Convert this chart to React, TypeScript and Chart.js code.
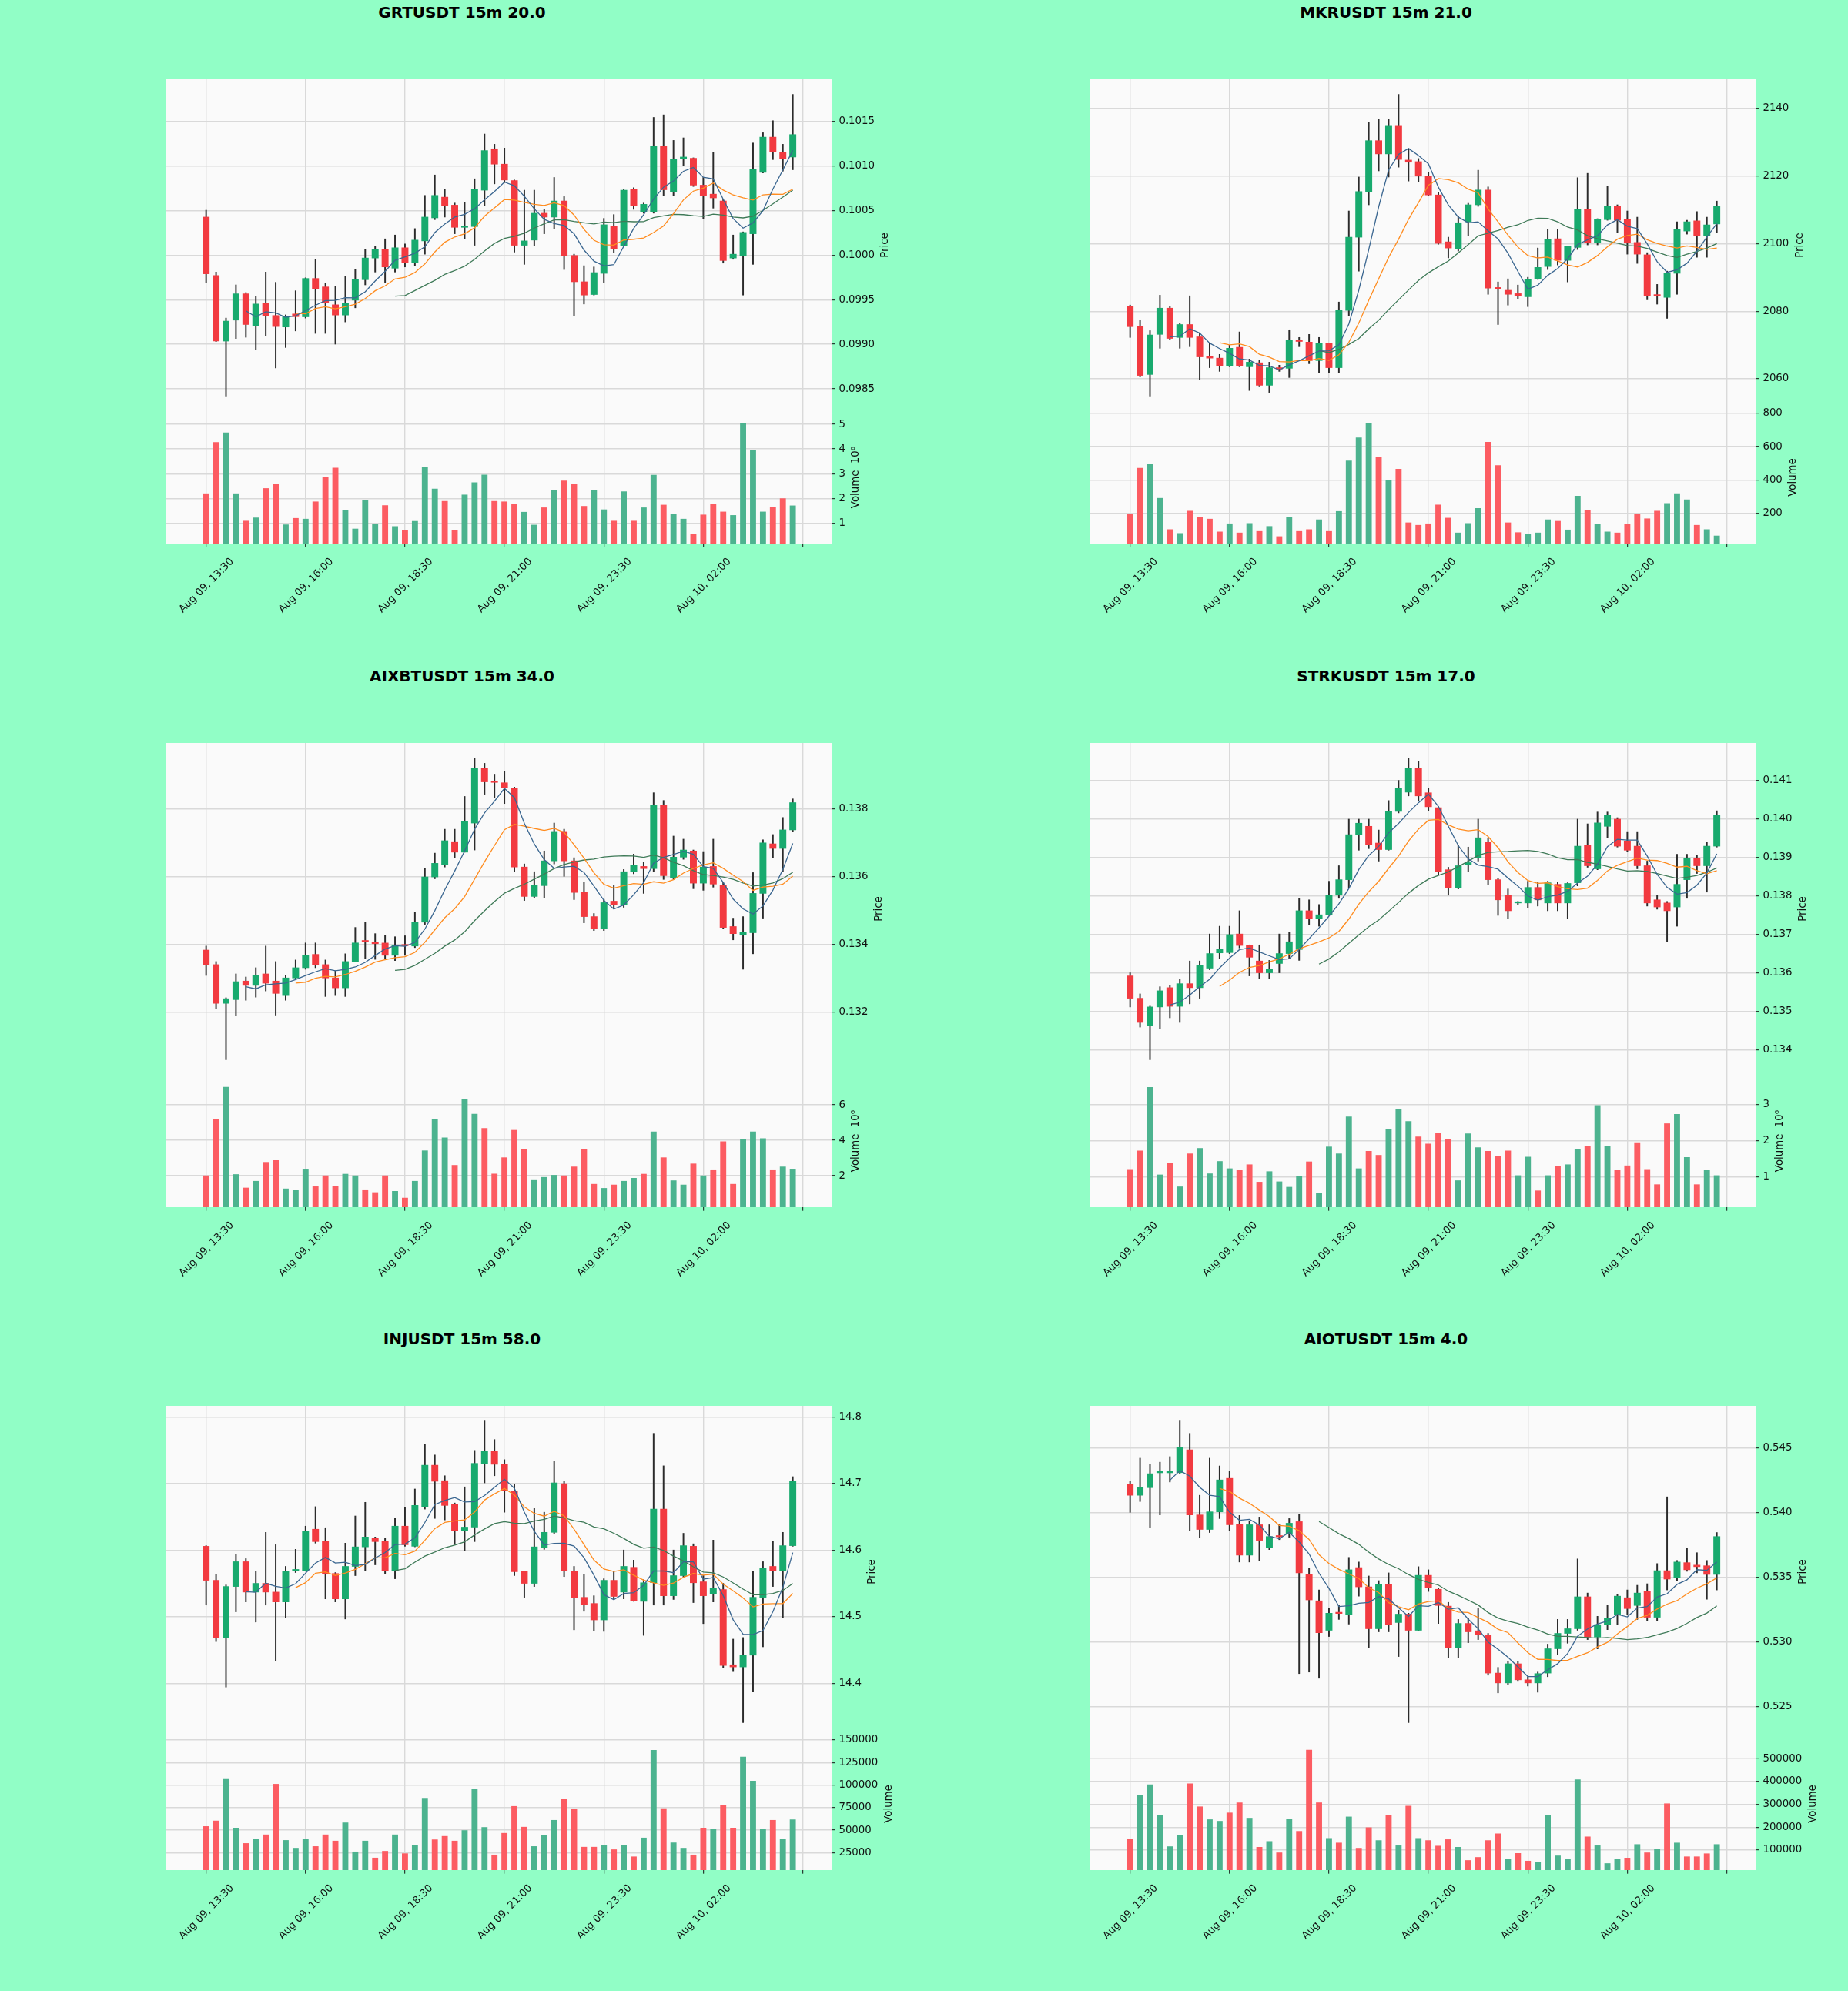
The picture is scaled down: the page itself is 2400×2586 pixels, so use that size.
import { useEffect, useRef } from 'react'
import { Chart } from 'chart.js/auto'

// candles are indexed 0..59 (15 minute bars starting Aug 09 13:30)
const TIME_TICKS = [0, 10, 20, 30, 40, 50, 60]
const TIME_LABELS = ['Aug 09, 13:30', 'Aug 09, 16:00', 'Aug 09, 18:30', 'Aug 09, 21:00', 'Aug 09, 23:30', 'Aug 10, 02:00', '']
const MAV_WINDOWS = [5, 10, 20]

// ---- GRTUSDT ----
const GRT_OPEN = [0.100426, 0.099772, 0.099036, 0.099271, 0.099566, 0.099208, 0.099457, 0.099323, 0.099194, 0.09934, 0.099308, 0.099738, 0.099643, 0.099443, 0.099328, 0.099495, 0.099724, 0.099967, 0.100062, 0.099853, 0.100082, 0.099918, 0.100159, 0.100417, 0.100649, 0.10056, 0.100311, 0.10032, 0.100727, 0.101191, 0.101019, 0.100835, 0.10011, 0.100168, 0.100469, 0.100426, 0.100606, 0.099996, 0.099701, 0.099558, 0.099795, 0.10032, 0.100102, 0.100741, 0.100483, 0.100483, 0.101219, 0.100712, 0.101076, 0.101085, 0.100784, 0.100683, 0.100606, 0.099967, 0.099996, 0.100239, 0.100927, 0.101322, 0.101156, 0.101099]
const GRT_HIGH = [0.100503, 0.09981, 0.099294, 0.099666, 0.09958, 0.099537, 0.09981, 0.099695, 0.09933, 0.0996, 0.099745, 0.099953, 0.099681, 0.099652, 0.099767, 0.099838, 0.100068, 0.100096, 0.100182, 0.100225, 0.100125, 0.100297, 0.100669, 0.100898, 0.100741, 0.100583, 0.100589, 0.100855, 0.101357, 0.101242, 0.101199, 0.100841, 0.100727, 0.100727, 0.100512, 0.10087, 0.100655, 0.10001, 0.099881, 0.099867, 0.100411, 0.100454, 0.100741, 0.100755, 0.100583, 0.101543, 0.101572, 0.101285, 0.101314, 0.10109, 0.10087, 0.101156, 0.100626, 0.100225, 0.10026, 0.101256, 0.101371, 0.101506, 0.101242, 0.101801]
const GRT_LOW = [0.099695, 0.09903, 0.09842, 0.099065, 0.099079, 0.098936, 0.099093, 0.098735, 0.098964, 0.09915, 0.099294, 0.099122, 0.099122, 0.099002, 0.099251, 0.099409, 0.099666, 0.09981, 0.099695, 0.09981, 0.099867, 0.099881, 0.10001, 0.100397, 0.100426, 0.100239, 0.100182, 0.10011, 0.100555, 0.100798, 0.100812, 0.100033, 0.099896, 0.100102, 0.100239, 0.100297, 0.099838, 0.099323, 0.099452, 0.099552, 0.099695, 0.100025, 0.100096, 0.100512, 0.100469, 0.10047, 0.100669, 0.100669, 0.100999, 0.100769, 0.100411, 0.100526, 0.09991, 0.099953, 0.099552, 0.099896, 0.10092, 0.10107, 0.100941, 0.100956]
const GRT_CLOSE = [0.09979, 0.099036, 0.09926, 0.099566, 0.099222, 0.099452, 0.099323, 0.099199, 0.099317, 0.09931, 0.099738, 0.099623, 0.099466, 0.099328, 0.09946, 0.099724, 0.099967, 0.100068, 0.099867, 0.100082, 0.099918, 0.100168, 0.100426, 0.100669, 0.100555, 0.100311, 0.10032, 0.100741, 0.101171, 0.101019, 0.100841, 0.10011, 0.100159, 0.100469, 0.100426, 0.100606, 0.099996, 0.099701, 0.099552, 0.099804, 0.10034, 0.100068, 0.100727, 0.100555, 0.100569, 0.101219, 0.100732, 0.101076, 0.101099, 0.100784, 0.100669, 0.100641, 0.099939, 0.10001, 0.100254, 0.100961, 0.101322, 0.101156, 0.101076, 0.101351]
const GRT_VOLUME = [2.19e6, 4.27e6, 4.66e6, 2.19e6, 1.08e6, 1.21e6, 2.4e6, 2.58e6, 0.93e6, 1.19e6, 1.16e6, 1.86e6, 2.85e6, 3.23e6, 1.5e6, 0.76e6, 1.91e6, 0.95e6, 1.71e6, 0.86e6, 0.72e6, 1.07e6, 3.26e6, 2.38e6, 1.88e6, 0.69e6, 2.14e6, 2.64e6, 2.95e6, 1.88e6, 1.86e6, 1.75e6, 1.44e6, 0.92e6, 1.62e6, 2.33e6, 2.71e6, 2.58e6, 1.68e6, 2.33e6, 1.54e6, 1.08e6, 2.27e6, 1.08e6, 1.62e6, 2.94e6, 1.73e6, 1.36e6, 1.16e6, 0.56e6, 1.33e6, 1.75e6, 1.45e6, 1.31e6, 5.03e6, 3.94e6, 1.45e6, 1.65e6, 1.99e6, 1.7e6]
const GRT_PRICE_TICKS = [0.0985, 0.099, 0.0995, 0.1, 0.1005, 0.101, 0.1015]
const GRT_VOLUME_TICKS = [1e6, 2e6, 3e6, 4e6, 5e6]

// ---- MKRUSDT ----
const MKR_OPEN = [2081.37, 2075.43, 2061.28, 2073.15, 2080.91, 2072.24, 2076.07, 2072.42, 2066.58, 2066.12, 2063.84, 2069.32, 2063.56, 2064.75, 2058.08, 2063.29, 2063.11, 2071.33, 2070.87, 2065.39, 2070.41, 2063.29, 2080.27, 2101.92, 2115.43, 2130.5, 2126.58, 2134.79, 2124.75, 2124.29, 2120.0, 2114.43, 2100.55, 2098.54, 2106.48, 2111.51, 2115.89, 2087.03, 2086.21, 2085.21, 2084.29, 2089.59, 2093.24, 2101.46, 2095.07, 2098.9, 2110.14, 2100.27, 2107.12, 2111.05, 2107.12, 2100.37, 2096.71, 2084.84, 2084.11, 2091.23, 2103.74, 2106.76, 2102.37, 2105.84]
const MKR_HIGH = [2081.83, 2077.26, 2074.25, 2084.75, 2081.37, 2076.35, 2084.57, 2073.61, 2070.41, 2067.22, 2069.95, 2073.88, 2065.84, 2065.39, 2064.93, 2064.02, 2074.52, 2072.24, 2073.15, 2072.24, 2070.59, 2082.74, 2109.68, 2119.73, 2135.89, 2136.8, 2136.8, 2144.2, 2128.13, 2125.21, 2121.1, 2115.16, 2101.92, 2108.04, 2111.96, 2121.74, 2116.8, 2088.68, 2089.59, 2087.76, 2090.05, 2098.72, 2104.2, 2104.38, 2099.36, 2119.54, 2120.82, 2107.4, 2116.99, 2111.51, 2109.68, 2107.85, 2097.35, 2087.95, 2091.87, 2106.48, 2106.94, 2109.5, 2107.85, 2112.6]
const MKR_LOW = [2072.24, 2060.55, 2054.89, 2069.04, 2071.51, 2069.04, 2069.5, 2059.63, 2063.29, 2062.19, 2063.56, 2063.56, 2056.53, 2057.63, 2055.98, 2062.19, 2060.37, 2069.5, 2064.47, 2061.74, 2061.74, 2061.74, 2078.63, 2091.87, 2111.51, 2121.55, 2119.73, 2122.65, 2118.54, 2118.36, 2114.25, 2099.82, 2095.8, 2097.81, 2102.37, 2111.05, 2085.02, 2076.07, 2081.83, 2083.65, 2081.37, 2089.41, 2092.33, 2093.7, 2088.68, 2098.26, 2099.64, 2099.64, 2106.94, 2103.29, 2096.9, 2094.16, 2083.38, 2082.1, 2077.9, 2085.02, 2102.83, 2095.98, 2095.98, 2103.29]
const MKR_CLOSE = [2075.43, 2061.0, 2072.97, 2080.91, 2071.96, 2076.07, 2072.24, 2066.48, 2066.12, 2063.84, 2069.04, 2063.84, 2064.93, 2058.08, 2063.29, 2062.92, 2071.33, 2071.05, 2065.39, 2070.41, 2063.29, 2080.27, 2101.92, 2115.43, 2130.5, 2126.58, 2134.79, 2124.93, 2124.11, 2120.0, 2114.43, 2100.09, 2098.72, 2106.21, 2111.51, 2115.89, 2086.85, 2086.67, 2085.02, 2084.57, 2089.41, 2092.97, 2101.19, 2095.07, 2099.18, 2110.14, 2100.27, 2107.12, 2111.05, 2106.94, 2100.37, 2096.9, 2084.57, 2084.57, 2091.23, 2104.2, 2106.48, 2102.37, 2105.57, 2111.05]
const MKR_VOLUME = [193, 470, 493, 290, 102, 79, 213, 176, 165, 88, 137, 82, 139, 91, 121, 60, 176, 91, 102, 161, 91, 211, 515, 653, 739, 537, 400, 465, 143, 128, 137, 250, 171, 82, 139, 229, 627, 487, 143, 84, 73, 82, 161, 152, 100, 303, 217, 134, 88, 82, 134, 194, 167, 213, 259, 318, 281, 128, 102, 64]
const MKR_PRICE_TICKS = [2060, 2080, 2100, 2120, 2140]
const MKR_VOLUME_TICKS = [200, 400, 600, 800]

// ---- AIXBTUSDT ----
const AIXBT_OPEN = [0.133832, 0.133402, 0.132257, 0.132367, 0.132916, 0.132788, 0.133127, 0.132916, 0.132486, 0.133008, 0.13331, 0.133704, 0.133402, 0.133008, 0.132715, 0.133493, 0.1341, 0.13404, 0.13404, 0.133677, 0.13398, 0.133951, 0.134657, 0.135994, 0.13636, 0.137038, 0.136727, 0.137588, 0.1392, 0.13882, 0.138779, 0.138623, 0.136287, 0.135417, 0.135737, 0.13647, 0.13734, 0.13647, 0.135536, 0.134821, 0.134455, 0.135279, 0.13517, 0.13615, 0.136305, 0.136241, 0.138119, 0.135966, 0.13658, 0.136763, 0.135811, 0.136305, 0.135756, 0.134528, 0.13429, 0.134345, 0.135508, 0.136974, 0.136837, 0.137386]
const AIXBT_HIGH = [0.133951, 0.133493, 0.132422, 0.133127, 0.133035, 0.13331, 0.133951, 0.133493, 0.133081, 0.133539, 0.134043, 0.134043, 0.133539, 0.133218, 0.133722, 0.134501, 0.134657, 0.134318, 0.134272, 0.134226, 0.134254, 0.134959, 0.136241, 0.136699, 0.137405, 0.137405, 0.138376, 0.139511, 0.139356, 0.139035, 0.139127, 0.13865, 0.136379, 0.13615, 0.136763, 0.137588, 0.137405, 0.136562, 0.135829, 0.134913, 0.135325, 0.135737, 0.136214, 0.136672, 0.136424, 0.138485, 0.138256, 0.137203, 0.137112, 0.136791, 0.136745, 0.137112, 0.135847, 0.134776, 0.134821, 0.136122, 0.137093, 0.137249, 0.137753, 0.138302]
const AIXBT_LOW = [0.133081, 0.132092, 0.13059, 0.13189, 0.132348, 0.13244, 0.132623, 0.131909, 0.132348, 0.132989, 0.133264, 0.13331, 0.132458, 0.132486, 0.132458, 0.133493, 0.133585, 0.133557, 0.133585, 0.133521, 0.133677, 0.133905, 0.134592, 0.135939, 0.136287, 0.136562, 0.136727, 0.136791, 0.13844, 0.138348, 0.138165, 0.13615, 0.135298, 0.135371, 0.135371, 0.136379, 0.136012, 0.135325, 0.134638, 0.134409, 0.134409, 0.13505, 0.135096, 0.136086, 0.135508, 0.13615, 0.135921, 0.135921, 0.136516, 0.135646, 0.1356, 0.135692, 0.134455, 0.134134, 0.133264, 0.133722, 0.134776, 0.136562, 0.13615, 0.13734]
const AIXBT_CLOSE = [0.133402, 0.132257, 0.132394, 0.132898, 0.132788, 0.133081, 0.132852, 0.13255, 0.133008, 0.13331, 0.133677, 0.133402, 0.133008, 0.132715, 0.133493, 0.134043, 0.13408, 0.13402, 0.133677, 0.133979, 0.13396, 0.134657, 0.135994, 0.136397, 0.137066, 0.136727, 0.137643, 0.1392, 0.138806, 0.13879, 0.138623, 0.136287, 0.135417, 0.135737, 0.13647, 0.13734, 0.13647, 0.135536, 0.134821, 0.134455, 0.135234, 0.13517, 0.13615, 0.136333, 0.136241, 0.138119, 0.136031, 0.13658, 0.136791, 0.135811, 0.136287, 0.135783, 0.134501, 0.134318, 0.134364, 0.135508, 0.137002, 0.136837, 0.137386, 0.138192]
const AIXBT_VOLUME = [2.0e6, 5.19e6, 7.0e6, 2.07e6, 1.31e6, 1.69e6, 2.76e6, 2.86e6, 1.26e6, 1.17e6, 2.38e6, 1.38e6, 2.0e6, 1.41e6, 2.09e6, 2.0e6, 1.21e6, 1.05e6, 2.0e6, 1.12e6, 0.74e6, 1.69e6, 3.41e6, 5.19e6, 4.14e6, 2.59e6, 6.29e6, 5.48e6, 4.67e6, 2.1e6, 3.02e6, 4.57e6, 3.5e6, 1.78e6, 1.91e6, 2.03e6, 2.0e6, 2.5e6, 3.5e6, 1.52e6, 1.29e6, 1.48e6, 1.69e6, 1.86e6, 2.09e6, 4.48e6, 3.02e6, 1.72e6, 1.48e6, 2.67e6, 2.0e6, 2.34e6, 3.93e6, 1.52e6, 4.05e6, 4.48e6, 4.1e6, 2.34e6, 2.5e6, 2.38e6]
const AIXBT_PRICE_TICKS = [0.132, 0.134, 0.136, 0.138]
const AIXBT_VOLUME_TICKS = [2e6, 4e6, 6e6]

// ---- STRKUSDT ----
const STRK_OPEN = [0.135915, 0.135334, 0.134624, 0.135108, 0.135609, 0.135124, 0.135713, 0.135609, 0.136117, 0.136513, 0.136521, 0.137005, 0.136706, 0.136303, 0.135996, 0.136238, 0.136496, 0.136601, 0.13761, 0.137408, 0.137505, 0.138014, 0.138417, 0.139588, 0.139805, 0.13937, 0.1392, 0.140193, 0.140693, 0.141307, 0.140677, 0.14029, 0.138676, 0.138216, 0.138805, 0.138982, 0.139402, 0.138417, 0.138014, 0.137812, 0.137812, 0.138216, 0.137812, 0.138296, 0.137812, 0.138337, 0.139305, 0.1387, 0.139805, 0.139991, 0.139426, 0.139289, 0.13878, 0.137893, 0.137812, 0.137707, 0.138417, 0.138982, 0.13878, 0.139289]
const STRK_HIGH = [0.135996, 0.135447, 0.135149, 0.135633, 0.135673, 0.135835, 0.136303, 0.136303, 0.137005, 0.137207, 0.137207, 0.13761, 0.136722, 0.136722, 0.136319, 0.137005, 0.137045, 0.137933, 0.137893, 0.137772, 0.138377, 0.13878, 0.139991, 0.139991, 0.139991, 0.139709, 0.140475, 0.141, 0.141581, 0.1415, 0.140798, 0.140314, 0.13874, 0.139305, 0.139265, 0.139991, 0.139507, 0.138458, 0.138175, 0.137852, 0.138377, 0.138353, 0.138377, 0.138353, 0.138337, 0.139991, 0.13987, 0.140177, 0.140177, 0.14003, 0.139668, 0.139668, 0.138901, 0.138014, 0.137852, 0.139079, 0.139079, 0.139063, 0.139402, 0.140209]
const STRK_LOW = [0.135108, 0.134584, 0.133736, 0.134543, 0.134826, 0.134705, 0.135189, 0.135334, 0.136077, 0.136359, 0.136496, 0.136642, 0.135915, 0.135835, 0.135835, 0.135996, 0.136359, 0.136319, 0.137247, 0.137207, 0.137489, 0.137933, 0.138216, 0.139184, 0.139224, 0.138901, 0.139184, 0.140153, 0.140596, 0.140475, 0.140209, 0.138538, 0.138014, 0.138175, 0.138619, 0.138901, 0.138296, 0.137489, 0.137408, 0.137755, 0.137691, 0.137731, 0.13761, 0.13761, 0.137408, 0.138256, 0.13874, 0.138676, 0.139507, 0.139265, 0.139144, 0.1387, 0.137731, 0.13765, 0.136803, 0.137207, 0.137933, 0.138579, 0.138094, 0.139265]
const STRK_CLOSE = [0.135334, 0.134705, 0.135108, 0.135528, 0.135124, 0.135713, 0.135609, 0.136198, 0.136496, 0.136601, 0.136989, 0.136706, 0.1364, 0.135996, 0.136093, 0.136496, 0.136803, 0.13761, 0.137408, 0.137505, 0.138014, 0.138417, 0.139588, 0.139886, 0.139321, 0.1392, 0.140193, 0.140798, 0.141307, 0.140596, 0.140314, 0.138619, 0.138216, 0.13878, 0.138861, 0.139507, 0.138417, 0.137893, 0.13761, 0.137828, 0.138216, 0.137893, 0.138337, 0.137812, 0.13832, 0.139289, 0.13878, 0.139894, 0.140096, 0.139289, 0.139184, 0.13878, 0.137812, 0.137707, 0.13761, 0.138296, 0.138982, 0.13878, 0.139289, 0.140096]
const STRK_VOLUME = [1.21e6, 1.72e6, 3.47e6, 1.06e6, 1.38e6, 0.73e6, 1.64e6, 1.79e6, 1.09e6, 1.43e6, 1.23e6, 1.2e6, 1.34e6, 0.86e6, 1.15e6, 0.87e6, 0.72e6, 1.02e6, 1.42e6, 0.56e6, 1.83e6, 1.64e6, 2.66e6, 1.23e6, 1.71e6, 1.6e6, 2.32e6, 2.87e6, 2.53e6, 2.11e6, 1.91e6, 2.21e6, 2.04e6, 0.9e6, 2.19e6, 1.81e6, 1.71e6, 1.57e6, 1.72e6, 1.04e6, 1.55e6, 0.62e6, 1.04e6, 1.3e6, 1.34e6, 1.77e6, 1.85e6, 2.97e6, 1.85e6, 1.19e6, 1.31e6, 1.95e6, 1.21e6, 0.79e6, 2.47e6, 2.73e6, 1.54e6, 0.79e6, 1.2e6, 1.04e6]
const STRK_PRICE_TICKS = [0.134, 0.135, 0.136, 0.137, 0.138, 0.139, 0.14, 0.141]
const STRK_VOLUME_TICKS = [1e6, 2e6, 3e6]

// ---- INJUSDT ----
const INJ_OPEN = [14.6058, 14.5547, 14.4688, 14.5454, 14.5826, 14.537, 14.5501, 14.537, 14.5222, 14.5692, 14.5696, 14.6314, 14.6128, 14.5649, 14.5268, 14.5756, 14.6049, 14.6174, 14.6128, 14.5686, 14.636, 14.6058, 14.6653, 14.7275, 14.7043, 14.6685, 14.629, 14.6346, 14.7303, 14.7489, 14.7289, 14.6885, 14.5677, 14.5501, 14.6035, 14.6267, 14.6997, 14.5686, 14.5291, 14.5199, 14.4952, 14.5547, 14.537, 14.5742, 14.5231, 14.551, 14.6616, 14.5315, 14.5617, 14.6058, 14.5524, 14.5338, 14.5408, 14.4279, 14.4246, 14.4423, 14.5292, 14.5756, 14.5686, 14.6067]
const INJ_HIGH = [14.6067, 14.564, 14.5477, 14.5942, 14.5872, 14.5686, 14.6267, 14.6081, 14.5756, 14.6012, 14.636, 14.6653, 14.6337, 14.5663, 14.6105, 14.6513, 14.6718, 14.6197, 14.6174, 14.6476, 14.6639, 14.6918, 14.7591, 14.7429, 14.7117, 14.6708, 14.695, 14.7498, 14.794, 14.7661, 14.7359, 14.6987, 14.5686, 14.6625, 14.6569, 14.7336, 14.7034, 14.5756, 14.564, 14.5315, 14.557, 14.5686, 14.6002, 14.5849, 14.5556, 14.7754, 14.7266, 14.6002, 14.6253, 14.6095, 14.5617, 14.6151, 14.5501, 14.4664, 14.4688, 14.5686, 14.5826, 14.6128, 14.6267, 14.7103]
const INJ_LOW = [14.5175, 14.4627, 14.3944, 14.5073, 14.5222, 14.492, 14.5175, 14.4339, 14.499, 14.5663, 14.5686, 14.6105, 14.5268, 14.5222, 14.4966, 14.5617, 14.5686, 14.5779, 14.564, 14.557, 14.6058, 14.605, 14.6616, 14.6476, 14.6453, 14.6081, 14.5988, 14.6128, 14.701, 14.7117, 14.6569, 14.5617, 14.5292, 14.5454, 14.6012, 14.6244, 14.5603, 14.4804, 14.5082, 14.4794, 14.478, 14.5268, 14.5268, 14.5231, 14.472, 14.5175, 14.5175, 14.5259, 14.5594, 14.5212, 14.4897, 14.5222, 14.4237, 14.4176, 14.341, 14.3874, 14.4548, 14.5454, 14.499, 14.6058]
const INJ_CLOSE = [14.5547, 14.4688, 14.5454, 14.5826, 14.537, 14.5501, 14.537, 14.5222, 14.5687, 14.57, 14.629, 14.6128, 14.5649, 14.5268, 14.5756, 14.6049, 14.6197, 14.6128, 14.5686, 14.636, 14.6081, 14.6671, 14.7275, 14.7034, 14.6671, 14.629, 14.6346, 14.7303, 14.7489, 14.7289, 14.6894, 14.5677, 14.5501, 14.6049, 14.6267, 14.701, 14.5686, 14.5291, 14.5185, 14.4952, 14.5547, 14.5305, 14.5756, 14.5245, 14.551, 14.6616, 14.5315, 14.5617, 14.6067, 14.551, 14.5315, 14.5431, 14.4269, 14.4246, 14.4423, 14.5292, 14.5733, 14.5686, 14.6067, 14.7034]
const INJ_VOLUME = [54100, 60300, 107200, 52400, 35300, 39700, 44900, 101000, 38700, 30100, 39700, 31900, 44900, 38000, 58200, 26000, 38000, 19200, 26700, 44900, 24000, 32900, 85600, 39400, 43200, 38000, 49700, 95200, 53100, 22600, 46600, 76400, 53400, 31900, 44500, 61000, 83900, 73000, 31200, 31200, 33600, 28400, 32900, 20500, 41400, 138700, 74000, 36000, 30100, 22600, 52400, 50700, 78100, 52400, 131200, 104500, 50700, 61000, 39700, 61600]
const INJ_PRICE_TICKS = [14.4, 14.5, 14.6, 14.7, 14.8]
const INJ_VOLUME_TICKS = [25000, 50000, 75000, 100000, 125000, 150000]

// ---- AIOTUSDT ----
const AIOT_OPEN = [0.54224, 0.54136, 0.54195, 0.5431, 0.5431, 0.54311, 0.54488, 0.53984, 0.53872, 0.54008, 0.54267, 0.53912, 0.53673, 0.53908, 0.53728, 0.5382, 0.53836, 0.53932, 0.53524, 0.5332, 0.53092, 0.53226, 0.53212, 0.53577, 0.53428, 0.53104, 0.53447, 0.53152, 0.53217, 0.53092, 0.53517, 0.53409, 0.53279, 0.5296, 0.53145, 0.53088, 0.53056, 0.52761, 0.52685, 0.52833, 0.52709, 0.52685, 0.52761, 0.52949, 0.53068, 0.53104, 0.53351, 0.5304, 0.53136, 0.53212, 0.53344, 0.53284, 0.53392, 0.53193, 0.53553, 0.535, 0.53615, 0.53596, 0.53591, 0.53524]
const AIOT_HIGH = [0.54243, 0.54423, 0.54375, 0.54392, 0.54435, 0.54711, 0.54615, 0.54136, 0.54423, 0.54363, 0.5432, 0.5398, 0.53936, 0.53968, 0.53908, 0.53908, 0.53956, 0.53992, 0.53572, 0.53404, 0.5326, 0.53284, 0.53656, 0.5362, 0.53512, 0.53476, 0.53536, 0.53248, 0.53224, 0.53584, 0.5356, 0.53416, 0.53308, 0.53176, 0.53188, 0.5326, 0.53068, 0.52805, 0.52853, 0.52853, 0.52733, 0.52769, 0.52985, 0.53176, 0.53176, 0.53644, 0.5338, 0.532, 0.53284, 0.53368, 0.53404, 0.5344, 0.53452, 0.53608, 0.54124, 0.53632, 0.53728, 0.53692, 0.53632, 0.53848]
const AIOT_LOW = [0.54004, 0.54088, 0.53889, 0.53984, 0.54239, 0.54305, 0.5386, 0.53807, 0.53848, 0.53956, 0.5386, 0.5362, 0.5362, 0.53632, 0.53716, 0.53793, 0.53812, 0.52757, 0.52769, 0.52721, 0.53044, 0.53176, 0.5314, 0.53356, 0.5296, 0.5308, 0.5308, 0.52889, 0.52378, 0.53085, 0.53392, 0.53145, 0.52877, 0.52877, 0.52996, 0.5302, 0.52745, 0.52608, 0.52673, 0.52697, 0.52661, 0.52613, 0.52733, 0.52901, 0.52992, 0.53092, 0.5302, 0.52948, 0.53097, 0.53136, 0.53212, 0.53176, 0.53164, 0.53164, 0.53404, 0.53476, 0.53548, 0.53536, 0.53332, 0.53404]
const AIOT_CLOSE = [0.54136, 0.54195, 0.54303, 0.54315, 0.54313, 0.54507, 0.53984, 0.53872, 0.54008, 0.54255, 0.53908, 0.53673, 0.53908, 0.53788, 0.53817, 0.53815, 0.5392, 0.53536, 0.53327, 0.53073, 0.53224, 0.53222, 0.5356, 0.53428, 0.53104, 0.53447, 0.53136, 0.53217, 0.53092, 0.53517, 0.53423, 0.53284, 0.5296, 0.53145, 0.5308, 0.53056, 0.52761, 0.52685, 0.52833, 0.52709, 0.52685, 0.52757, 0.52949, 0.53068, 0.53104, 0.53351, 0.5304, 0.53136, 0.53188, 0.53356, 0.5326, 0.5338, 0.53193, 0.53553, 0.53488, 0.5362, 0.5356, 0.53584, 0.53524, 0.53817]
const AIOT_VOLUME = [148300, 338900, 385800, 253000, 114800, 165800, 389900, 289200, 232900, 226100, 262400, 306700, 239600, 112100, 137600, 87900, 235500, 181900, 537500, 306700, 151000, 130900, 244900, 108100, 198000, 141600, 251600, 118800, 291900, 151000, 141600, 117400, 145600, 112100, 54400, 67800, 141600, 171100, 61100, 85200, 51700, 47700, 251600, 74500, 61100, 407300, 157700, 118800, 41000, 58400, 65100, 124200, 87900, 105400, 302600, 130900, 70500, 70500, 83900, 124200]
const AIOT_PRICE_TICKS = [0.525, 0.53, 0.535, 0.54, 0.545]
const AIOT_VOLUME_TICKS = [100000, 200000, 300000, 400000, 500000]

const FONT = 'DejaVu Sans'
const PAGE_BG = '#91fec6'
const PLOT_BG = '#fafafa'
const GRID = '#d9d9d9'
const TEXT = '#111111'
const UP = '#18aa6e'
const DOWN = '#f23a40'
const VOL_UP = '#4cb38f'
const VOL_DOWN = '#fc5c62'
const WICK = '#2b2b2b'
const MAV_COLORS = ['#3a6690', '#ff8c1f', '#3f7a58']

const COL_X = [216, 1416]
const COL_CENTER = [600, 1800]
const ROW_Y = [103, 965, 1826]
const PLOT_W = 864
const PRICE_H = 431
const VOL_H = 172
const AXIS_W = 130
const XLABEL_H = 150
const EXT = 20 // room above each plot so the top tick label is not cut
const TICK_LEN = 4.7
const TICK_PAD = 4.7

type PanelDef = {
  title: string
  col: number
  row: number
  open: number[]
  high: number[]
  low: number[]
  close: number[]
  volume: number[]
  priceTicks: number[]
  priceFmt: (v: number) => string
  volumeTicks: number[]
  volumeFmt: (v: number) => string
  volumeLabel: string
}

const fixed = (d: number) => (v: number) => v.toFixed(d)
const millions = (v: number) => String(Math.round(v / 1e6))
const plain = (v: number) => String(Math.round(v))

const PANELS: PanelDef[] = [
  { title: 'GRTUSDT 15m 20.0', col: 0, row: 0, open: GRT_OPEN, high: GRT_HIGH, low: GRT_LOW, close: GRT_CLOSE, volume: GRT_VOLUME, priceTicks: GRT_PRICE_TICKS, priceFmt: fixed(4), volumeTicks: GRT_VOLUME_TICKS, volumeFmt: millions, volumeLabel: 'Volume  10\u2076' },
  { title: 'MKRUSDT 15m 21.0', col: 1, row: 0, open: MKR_OPEN, high: MKR_HIGH, low: MKR_LOW, close: MKR_CLOSE, volume: MKR_VOLUME, priceTicks: MKR_PRICE_TICKS, priceFmt: plain, volumeTicks: MKR_VOLUME_TICKS, volumeFmt: plain, volumeLabel: 'Volume' },
  { title: 'AIXBTUSDT 15m 34.0', col: 0, row: 1, open: AIXBT_OPEN, high: AIXBT_HIGH, low: AIXBT_LOW, close: AIXBT_CLOSE, volume: AIXBT_VOLUME, priceTicks: AIXBT_PRICE_TICKS, priceFmt: fixed(3), volumeTicks: AIXBT_VOLUME_TICKS, volumeFmt: millions, volumeLabel: 'Volume  10\u2076' },
  { title: 'STRKUSDT 15m 17.0', col: 1, row: 1, open: STRK_OPEN, high: STRK_HIGH, low: STRK_LOW, close: STRK_CLOSE, volume: STRK_VOLUME, priceTicks: STRK_PRICE_TICKS, priceFmt: fixed(3), volumeTicks: STRK_VOLUME_TICKS, volumeFmt: millions, volumeLabel: 'Volume  10\u2076' },
  { title: 'INJUSDT 15m 58.0', col: 0, row: 2, open: INJ_OPEN, high: INJ_HIGH, low: INJ_LOW, close: INJ_CLOSE, volume: INJ_VOLUME, priceTicks: INJ_PRICE_TICKS, priceFmt: fixed(1), volumeTicks: INJ_VOLUME_TICKS, volumeFmt: plain, volumeLabel: 'Volume' },
  { title: 'AIOTUSDT 15m 4.0', col: 1, row: 2, open: AIOT_OPEN, high: AIOT_HIGH, low: AIOT_LOW, close: AIOT_CLOSE, volume: AIOT_VOLUME, priceTicks: AIOT_PRICE_TICKS, priceFmt: fixed(3), volumeTicks: AIOT_VOLUME_TICKS, volumeFmt: plain, volumeLabel: 'Volume' },
]

function movingAverage(values: number[], win: number) {
  const out: { x: number; y: number }[] = []
  for (let i = win - 1; i < values.length; i++) {
    let s = 0
    for (let k = i - win + 1; k <= i; k++) s += values[k]
    out.push({ x: i, y: s / win })
  }
  return out
}

const plotBg = {
  id: 'plotBg',
  beforeDraw(chart: any) {
    const { ctx, chartArea: a } = chart
    ctx.save()
    ctx.fillStyle = PLOT_BG
    ctx.fillRect(a.left, a.top, a.right - a.left, a.bottom - a.top)
    ctx.restore()
  },
}

// matplotlib-style y label on the right, reading bottom to top
function yLabel(text: string, tickTexts: string[]) {
  return {
    id: 'yLabel',
    afterDraw(chart: any) {
      const { ctx, chartArea: a } = chart
      ctx.save()
      ctx.font = `13.33px "${FONT}"`
      const w = Math.max(...tickTexts.map((t) => ctx.measureText(t).width))
      const x = a.right + TICK_LEN + TICK_PAD + w + 5.3 + 8.5
      ctx.translate(x, (a.top + a.bottom) / 2)
      ctx.rotate(-Math.PI / 2)
      ctx.textAlign = 'center'
      ctx.textBaseline = 'middle'
      ctx.fillStyle = TEXT
      ctx.fillText(text, 0, 0)
      ctx.restore()
    },
  }
}

function xScale(withLabels: boolean) {
  return {
    type: 'linear' as const,
    min: -4,
    max: 62.9,
    offset: false,
    afterBuildTicks: (s: any) => {
      s.ticks = TIME_TICKS.map((v) => ({ value: v }))
    },
    afterFit: (s: any) => {
      s.height = withLabels ? XLABEL_H : 0
      s.paddingLeft = 0
      s.paddingRight = 0
    },
    ticks: {
      display: withLabels,
      autoSkip: false,
      maxRotation: 45,
      minRotation: 45,
      labelOffset: 34,
      padding: 11,
      color: TEXT,
      font: { family: FONT, size: 13.33 },
      callback: (v: any) => TIME_LABELS[TIME_TICKS.indexOf(Number(v))] ?? '',
    },
    grid: { offset: false, color: GRID, lineWidth: 1.4, drawTicks: withLabels, tickLength: TICK_LEN, tickColor: TEXT, tickWidth: 1 },
    border: { display: false },
  }
}

function yScale(min: number, max: number, ticks: number[], fmt: (v: number) => string) {
  return {
    type: 'linear' as const,
    position: 'right' as const,
    min,
    max,
    afterBuildTicks: (s: any) => {
      s.ticks = ticks.map((v) => ({ value: v }))
    },
    afterFit: (s: any) => {
      s.width = AXIS_W
      s.paddingTop = 0
      s.paddingBottom = 0
    },
    ticks: {
      autoSkip: false,
      padding: TICK_PAD,
      color: TEXT,
      font: { family: FONT, size: 13.33 },
      callback: (v: any) => fmt(Number(v)),
    },
    grid: { color: GRID, lineWidth: 1.4, tickLength: TICK_LEN, tickColor: TEXT, tickWidth: 1 },
    border: { display: false },
  }
}

function Panel({ def }: { def: PanelDef }) {
  const priceRef = useRef<HTMLCanvasElement | null>(null)
  const volRef = useRef<HTMLCanvasElement | null>(null)

  useEffect(() => {
    if (!priceRef.current || !volRef.current) return
    const up = def.close.map((c, i) => c >= def.open[i])
    const lo = Math.min(...def.low)
    const hi = Math.max(...def.high)
    const pad = (hi - lo) * 0.05
    const vMin = Math.min(...def.volume) * 0.3
    const vMax = Math.max(...def.volume) * 1.1

    const common = {
      animation: false as const,
      responsive: false,
      events: [] as any[],
      layout: { padding: { top: EXT, left: 0, right: 0, bottom: 0 }, autoPadding: false },
      plugins: { legend: { display: false }, tooltip: { enabled: false } },
    }

    const priceChart = new Chart(priceRef.current, {
      type: 'bar',
      data: {
        datasets: [
          ...MAV_WINDOWS.map((w, k) => ({
            type: 'line' as const,
            data: movingAverage(def.close, w),
            borderColor: MAV_COLORS[k],
            borderWidth: 1.3,
            pointRadius: 0,
            tension: 0,
            order: 1,
          })),
          {
            type: 'bar' as const,
            data: def.open.map((o, i) => ({ x: i, y: [o, def.close[i]] })),
            backgroundColor: up.map((u) => (u ? UP : DOWN)),
            barThickness: 8.3,
            minBarLength: 1.6,
            grouped: false,
            order: 2,
          },
          {
            type: 'bar' as const,
            data: def.low.map((l, i) => ({ x: i, y: [l, def.high[i]] })),
            backgroundColor: WICK,
            barThickness: 1.3,
            grouped: false,
            order: 3,
          },
        ] as any,
      },
      options: {
        ...common,
        scales: {
          x: xScale(false),
          y: yScale(lo - pad, hi + pad, def.priceTicks, def.priceFmt),
        },
      } as any,
      plugins: [plotBg, yLabel('Price', def.priceTicks.map(def.priceFmt))],
    })

    const volChart = new Chart(volRef.current, {
      type: 'bar',
      data: {
        datasets: [
          {
            data: def.volume.map((v, i) => ({ x: i, y: v })),
            backgroundColor: up.map((u) => (u ? VOL_UP : VOL_DOWN)),
            barThickness: 7.2,
            grouped: false,
          },
        ] as any,
      },
      options: {
        ...common,
        scales: {
          x: xScale(true),
          y: yScale(vMin, vMax, def.volumeTicks, def.volumeFmt),
        },
      } as any,
      plugins: [plotBg, yLabel(def.volumeLabel, def.volumeTicks.map(def.volumeFmt))],
    })

    return () => {
      priceChart.destroy()
      volChart.destroy()
    }
  }, [def])

  const left = COL_X[def.col]
  const top = ROW_Y[def.row]
  const w = PLOT_W + AXIS_W
  return (
    <>
      <div
        style={{
          position: 'absolute',
          left: COL_CENTER[def.col] - 400,
          top: top - 99,
          width: 800,
          textAlign: 'center',
          fontFamily: FONT,
          fontWeight: 'bold',
          fontSize: 20,
          lineHeight: '24px',
          color: '#000',
        }}
      >
        {def.title}
      </div>
      <canvas
        ref={priceRef}
        width={w}
        height={PRICE_H + EXT}
        style={{ position: 'absolute', left, top: top - EXT, width: w, height: PRICE_H + EXT }}
      />
      <canvas
        ref={volRef}
        width={w}
        height={VOL_H + XLABEL_H + EXT}
        style={{ position: 'absolute', left, top: top + PRICE_H - EXT, width: w, height: VOL_H + XLABEL_H + EXT }}
      />
    </>
  )
}

export default function App() {
  return (
    <div style={{ position: 'absolute', left: 0, top: 0, width: 2400, height: 2586, background: PAGE_BG, overflow: 'hidden' }}>
      {PANELS.map((p) => (
        <Panel key={p.title} def={p} />
      ))}
    </div>
  )
}
